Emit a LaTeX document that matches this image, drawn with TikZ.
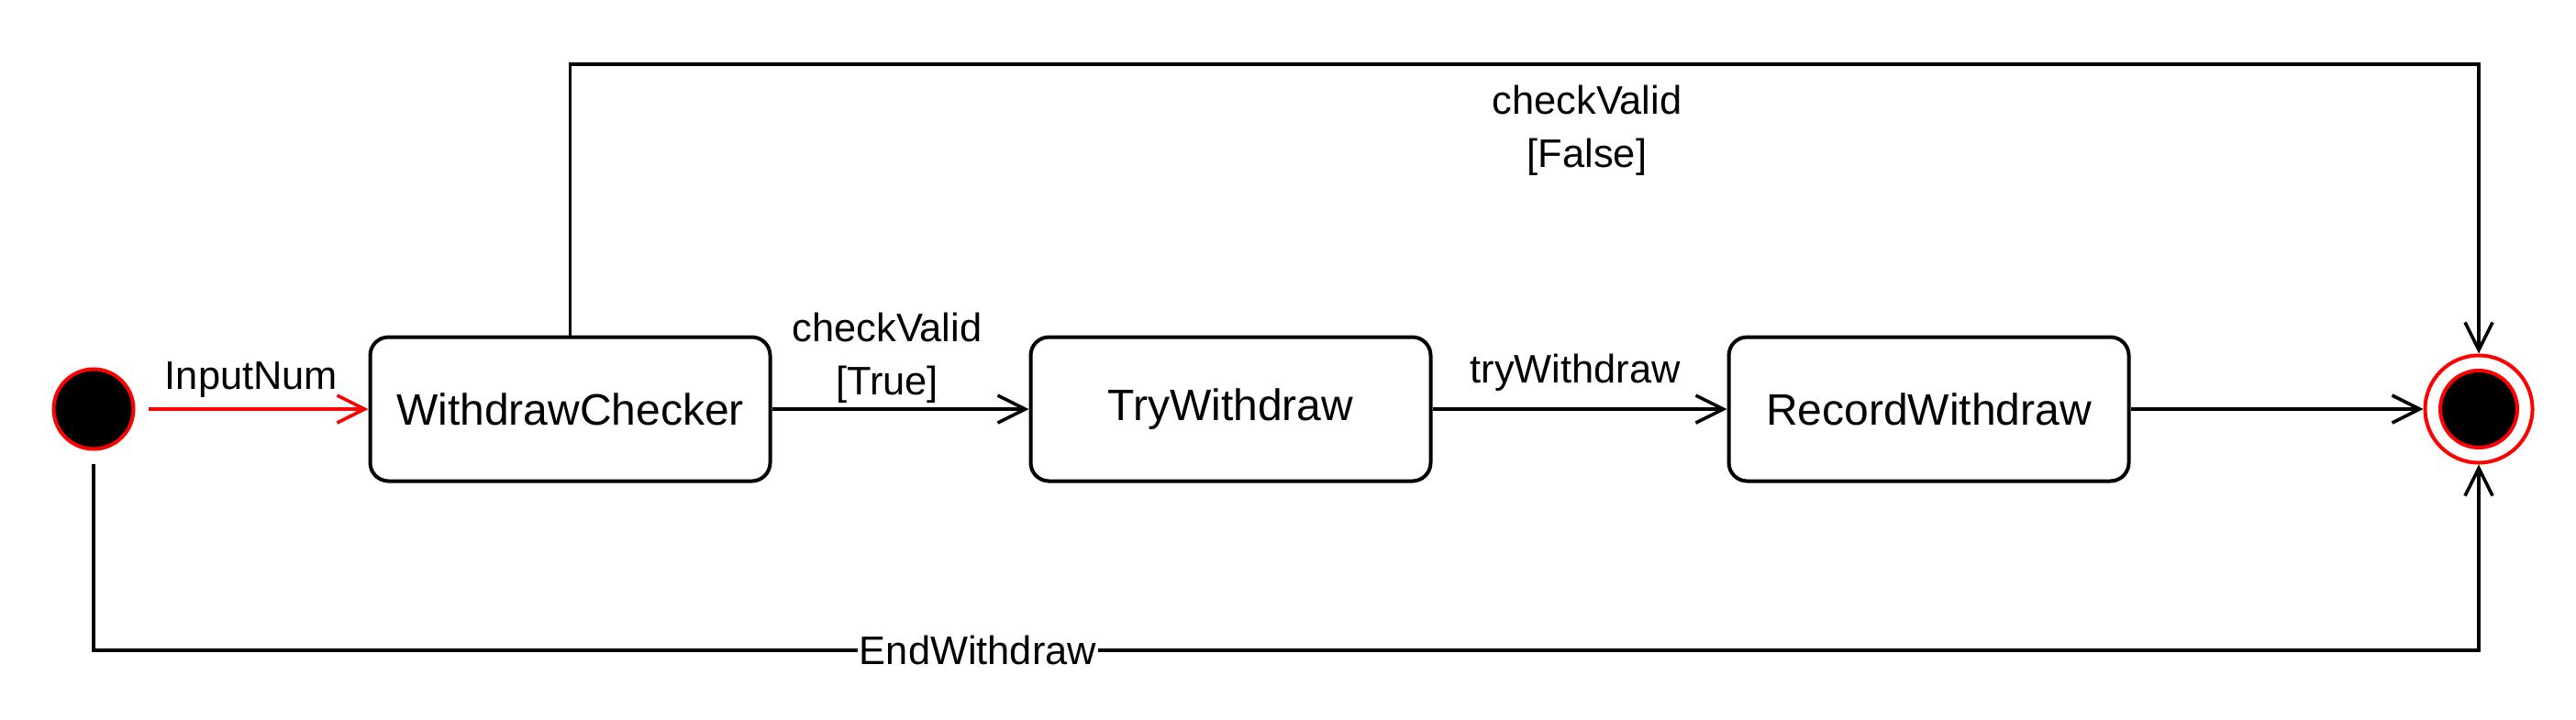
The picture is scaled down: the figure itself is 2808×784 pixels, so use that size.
\documentclass[tikz,border=0pt]{standalone}
\usepackage{fontspec}
\setmainfont{Liberation Sans}
\usetikzlibrary{arrows.meta}
\begin{document}
\begin{tikzpicture}[x=0.5pt,y=-0.5pt,
  every path/.style={line width=1.8pt},
  state/.style={draw, line width=2pt, rounded corners=10pt, minimum width=218pt, minimum height=78.5pt,
    font=\fontsize{24}{29}\selectfont, inner sep=0pt},
  lbl/.style={font=\fontsize{21.7}{29}\selectfont, inner sep=0pt, align=center},
  trans/.style={-{Straight Barb[length=15pt,width=15pt]}},
  pseudo/.style={circle, draw=red, line width=2pt, inner sep=0pt},
]
\useasboundingbox (0,0) rectangle (2808,784);
% nodes
\node[pseudo, fill=black, minimum size=43.5pt] (init) at (102,446) {};
\node[state] (wc) at (621.5,446) {WithdrawChecker};
\node[state] (tw) at (1341.5,446) {TryWithdraw};
\node[state] (rw) at (2102.5,446) {RecordWithdraw};
\node[pseudo, fill=white, minimum size=58.5pt] (fin) at (2702,446) {};
\node[pseudo, fill=black, minimum size=42pt] (finin) at (fin.center) {};
\coordinate (ctl) at (621.5,70);
\coordinate (ctr) at (2702,70);
\coordinate (cbl) at (102,709);
\coordinate (cbr) at (2702,709);
% connectors
\draw[trans, red, shorten <=7pt] (init) -- (wc);
\node[lbl] (l1) at (274,414) {InputNum};
\draw[trans] (wc) -- (tw);
\node[lbl] (l2) at (967,390) {checkValid\\{}[True]};
\draw[trans] (tw) -- (rw);
\node[lbl] (l3) at (1717,406) {tryWithdraw};
\draw[trans] (rw) -- (fin);
\draw[trans] (wc.north) -- (ctl) -- (ctr) -- (fin.north);
\node[lbl] (l4) at (1730,142) {checkValid\\{}[False]};
\draw[trans, shorten <=7pt] (init.south) -- (cbl) -- (cbr) -- (fin.south);
\node[lbl, fill=white, inner sep=1pt] (l5) at (1066,709) {EndWithdraw};
\end{tikzpicture}
\end{document}
